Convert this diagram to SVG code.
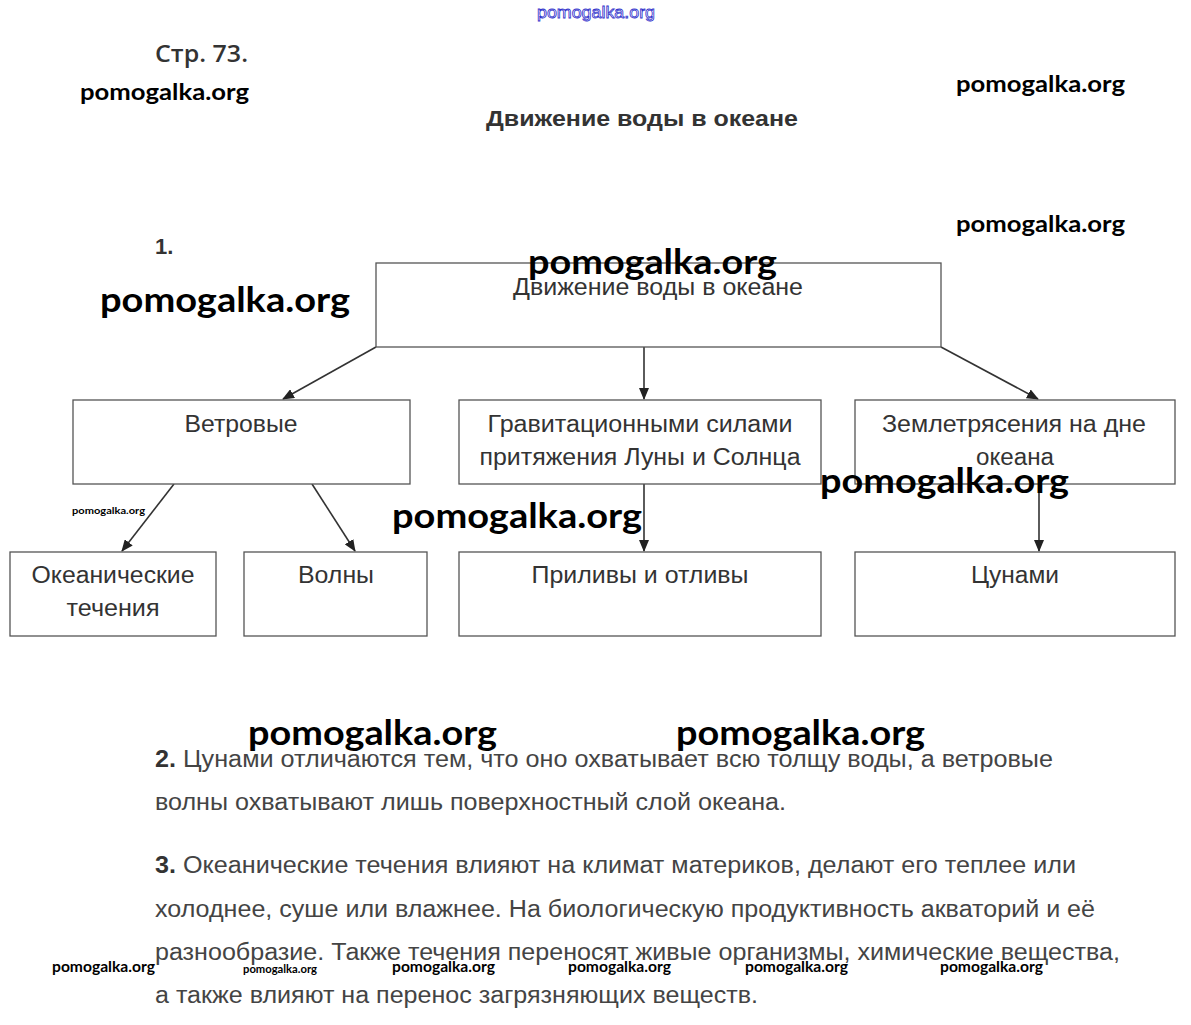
<svg xmlns="http://www.w3.org/2000/svg" width="1191" height="1025" viewBox="0 0 1191 1025">
<style>
.bx{fill:#fff;stroke:#555;stroke-width:1.3}
.lb{font-family:"Liberation Sans",Arial,sans-serif;font-size:23px;fill:#333;text-anchor:middle}
.pg{font-family:"Liberation Sans",Arial,sans-serif;font-size:23px;fill:#444}
.hd{font-family:"Liberation Sans",Arial,sans-serif;font-size:22px;font-weight:bold;fill:#333}
.wm{font-family:Lato,"Open Sans",sans-serif;font-weight:bold;fill:#000}
.cn{stroke:#333;stroke-width:1.6;fill:none;marker-end:url(#ah)}
</style>
<defs>
<marker id="ah" markerWidth="12" markerHeight="10" refX="11" refY="5" orient="auto" markerUnits="userSpaceOnUse">
<path d="M0,0 L12,5 L0,10 Z" fill="#222"/>
</marker>
</defs>
<rect width="1191" height="1025" fill="#fff"/>
<text x="596" y="18" text-anchor="middle" font-family="Liberation Sans,Arial,sans-serif" font-size="17" fill="#fff" stroke="#3333cc" stroke-width="0.8" textLength="118" lengthAdjust="spacingAndGlyphs">pomogalka.org</text>
<text x="155" y="62" font-family="'Open Sans','Liberation Sans',sans-serif" font-size="23" font-weight="600" fill="#333" textLength="93" lengthAdjust="spacingAndGlyphs">Стр. 73.</text>
<text x="486" y="126" class="hd" textLength="312" lengthAdjust="spacingAndGlyphs">Движение воды в океане</text>
<text x="155" y="254" class="hd">1.</text>

<g id="connectors">
<line class="cn" x1="376" y1="347" x2="283" y2="399"/>
<line class="cn" x1="644" y1="347" x2="644" y2="399"/>
<line class="cn" x1="941" y1="347" x2="1038" y2="399"/>
<line class="cn" x1="174" y1="484" x2="122" y2="551"/>
<line class="cn" x1="312" y1="484" x2="355" y2="551"/>
<line class="cn" x1="644" y1="484" x2="644" y2="551"/>
<line class="cn" x1="1039" y1="484" x2="1039" y2="551"/>
</g>

<g id="root"><rect class="bx" x="376" y="263" width="565" height="84"/><text class="lb" x="658" y="295" textLength="290" lengthAdjust="spacingAndGlyphs">Движение воды в океане</text></g>
<g id="wind"><rect class="bx" x="73" y="400" width="337" height="84"/><text class="lb" x="241" y="432" textLength="113" lengthAdjust="spacingAndGlyphs">Ветровые</text></g>
<g id="grav"><rect class="bx" x="459" y="400" width="362" height="84"/><text class="lb" x="640" y="432" textLength="305" lengthAdjust="spacingAndGlyphs">Гравитационными силами</text><text class="lb" x="640" y="465" textLength="321" lengthAdjust="spacingAndGlyphs">притяжения Луны и Солнца</text></g>
<g id="quake"><rect class="bx" x="855" y="400" width="320" height="84"/><text class="lb" x="1014" y="432" textLength="264" lengthAdjust="spacingAndGlyphs">Землетрясения на дне</text><text class="lb" x="1015" y="465" textLength="78" lengthAdjust="spacingAndGlyphs">океана</text></g>
<g id="currents"><rect class="bx" x="10" y="552" width="206" height="84"/><text class="lb" x="113" y="583" textLength="163" lengthAdjust="spacingAndGlyphs">Океанические</text><text class="lb" x="113" y="616" textLength="93" lengthAdjust="spacingAndGlyphs">течения</text></g>
<g id="waves"><rect class="bx" x="244" y="552" width="183" height="84"/><text class="lb" x="336" y="583" textLength="76" lengthAdjust="spacingAndGlyphs">Волны</text></g>
<g id="tides"><rect class="bx" x="459" y="552" width="362" height="84"/><text class="lb" x="640" y="583" textLength="217" lengthAdjust="spacingAndGlyphs">Приливы и отливы</text></g>
<g id="tsunami"><rect class="bx" x="855" y="552" width="320" height="84"/><text class="lb" x="1015" y="583" textLength="88" lengthAdjust="spacingAndGlyphs">Цунами</text></g>

<text x="155" y="767" class="pg" textLength="898" lengthAdjust="spacingAndGlyphs"><tspan font-weight="bold" fill="#333">2.</tspan> Цунами отличаются тем, что оно охватывает всю толщу воды, а ветровые</text>
<text x="155" y="810" class="pg" textLength="631" lengthAdjust="spacingAndGlyphs">волны охватывают лишь поверхностный слой океана.</text>
<text x="155" y="873" class="pg" textLength="921" lengthAdjust="spacingAndGlyphs"><tspan font-weight="bold" fill="#333">3.</tspan> Океанические течения влияют на климат материков, делают его теплее или</text>
<text x="155" y="917" class="pg" textLength="940" lengthAdjust="spacingAndGlyphs">холоднее, суше или влажнее. На биологическую продуктивность акваторий и её</text>
<text x="155" y="960" class="pg" textLength="965" lengthAdjust="spacingAndGlyphs">разнообразие. Также течения переносят живые организмы, химические вещества,</text>
<text x="155" y="1003" class="pg" textLength="603" lengthAdjust="spacingAndGlyphs">а также влияют на перенос загрязняющих веществ.</text>

<g id="watermarks">
<text class="wm" x="80" y="100" font-size="23" textLength="169" lengthAdjust="spacingAndGlyphs">pomogalka.org</text>
<text class="wm" x="956" y="92" font-size="23" textLength="169" lengthAdjust="spacingAndGlyphs">pomogalka.org</text>
<text class="wm" x="956" y="232" font-size="23" textLength="169" lengthAdjust="spacingAndGlyphs">pomogalka.org</text>
<text class="wm" x="528" y="274" font-size="34" textLength="249" lengthAdjust="spacingAndGlyphs">pomogalka.org</text>
<text class="wm" x="100" y="312" font-size="34" textLength="250" lengthAdjust="spacingAndGlyphs">pomogalka.org</text>
<text class="wm" x="820" y="493" font-size="34" textLength="249" lengthAdjust="spacingAndGlyphs">pomogalka.org</text>
<text class="wm" x="392" y="528" font-size="34" textLength="250" lengthAdjust="spacingAndGlyphs">pomogalka.org</text>
<text class="wm" x="72" y="514" font-size="10" textLength="73" lengthAdjust="spacingAndGlyphs">pomogalka.org</text>
<text class="wm" x="248" y="745" font-size="34" textLength="249" lengthAdjust="spacingAndGlyphs">pomogalka.org</text>
<text class="wm" x="676" y="745" font-size="34" textLength="249" lengthAdjust="spacingAndGlyphs">pomogalka.org</text>
<text class="wm" x="52" y="972" font-size="15" textLength="103" lengthAdjust="spacingAndGlyphs">pomogalka.org</text>
<text class="wm" x="243" y="973" font-size="11" textLength="74" lengthAdjust="spacingAndGlyphs">pomogalka.org</text>
<text class="wm" x="392" y="972" font-size="15" textLength="103" lengthAdjust="spacingAndGlyphs">pomogalka.org</text>
<text class="wm" x="568" y="972" font-size="15" textLength="103" lengthAdjust="spacingAndGlyphs">pomogalka.org</text>
<text class="wm" x="745" y="972" font-size="15" textLength="103" lengthAdjust="spacingAndGlyphs">pomogalka.org</text>
<text class="wm" x="940" y="972" font-size="15" textLength="103" lengthAdjust="spacingAndGlyphs">pomogalka.org</text>
</g>
</svg>
